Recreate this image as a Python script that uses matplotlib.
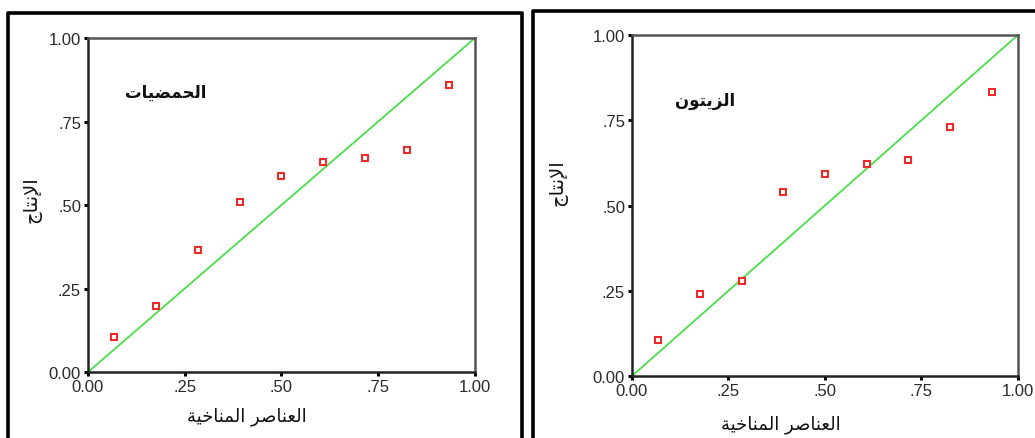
import matplotlib
matplotlib.use("Agg")
import matplotlib.pyplot as plt
from matplotlib.lines import Line2D

# P-P plot values
expected = [0.068, 0.176, 0.284, 0.392, 0.500, 0.608, 0.716, 0.824, 0.932]
citrus_obs = [0.105, 0.197, 0.366, 0.508, 0.587, 0.630, 0.641, 0.665, 0.858]
olive_obs = [0.105, 0.240, 0.280, 0.539, 0.591, 0.623, 0.634, 0.731, 0.832]

ticks = [0, 0.25, 0.5, 0.75, 1.0]
tick_labels = ["0.00", ".25", ".50", ".75", "1.00"]

x_title = "العناصر المناخية"
y_title = "الإنتاج"
citrus_title = "الحمضيات"
olive_title = "الزيتون"

# minimal arabic shaping, matplotlib has no bidi/shaping of its own
# letter: (isolated, final, initial, medial); None initial means no forward join
FORMS = {
    "ا": (0xFE8D, 0xFE8E, None, None),
    "إ": (0xFE87, 0xFE88, None, None),
    "أ": (0xFE83, 0xFE84, None, None),
    "ب": (0xFE8F, 0xFE90, 0xFE91, 0xFE92),
    "ة": (0xFE93, 0xFE94, None, None),
    "ت": (0xFE95, 0xFE96, 0xFE97, 0xFE98),
    "ج": (0xFE9D, 0xFE9E, 0xFE9F, 0xFEA0),
    "ح": (0xFEA1, 0xFEA2, 0xFEA3, 0xFEA4),
    "خ": (0xFEA5, 0xFEA6, 0xFEA7, 0xFEA8),
    "ر": (0xFEAD, 0xFEAE, None, None),
    "ز": (0xFEAF, 0xFEB0, None, None),
    "ص": (0xFEB9, 0xFEBA, 0xFEBB, 0xFEBC),
    "ض": (0xFEBD, 0xFEBE, 0xFEBF, 0xFEC0),
    "ع": (0xFEC9, 0xFECA, 0xFECB, 0xFECC),
    "ل": (0xFEDD, 0xFEDE, 0xFEDF, 0xFEE0),
    "م": (0xFEE1, 0xFEE2, 0xFEE3, 0xFEE4),
    "ن": (0xFEE5, 0xFEE6, 0xFEE7, 0xFEE8),
    "و": (0xFEED, 0xFEEE, None, None),
    "ي": (0xFEF1, 0xFEF2, 0xFEF3, 0xFEF4),
    # lam-alef ligatures
    "لا": (0xFEFB, 0xFEFC, None, None),
    "لإ": (0xFEF9, 0xFEFA, None, None),
    "لأ": (0xFEF7, 0xFEF8, None, None),
}


def shape(text):
    letters = []
    i = 0
    while i < len(text):
        pair = text[i:i + 2]
        if pair in FORMS and len(pair) == 2:
            letters.append(pair)
            i += 2
        else:
            letters.append(text[i])
            i += 1
    out = []
    for k, ch in enumerate(letters):
        if ch not in FORMS:
            out.append(ch)
            continue
        prev = letters[k - 1] if k > 0 else None
        nxt = letters[k + 1] if k + 1 < len(letters) else None
        join_prev = prev in FORMS and FORMS[prev][2] is not None
        join_next = FORMS[ch][2] is not None and nxt in FORMS
        iso, fin, ini, med = FORMS[ch]
        if join_prev and join_next:
            code = med
        elif join_prev:
            code = fin
        elif join_next:
            code = ini
        else:
            code = iso
        out.append(chr(code))
    return "".join(out)[::-1]


plt.rcParams["font.family"] = ["Liberation Sans", "DejaVu Sans"]

fig = plt.figure(figsize=(10.35, 4.39), dpi=100)

# rect, title pos, ylabel pos (axes coords), xlabel pos (figure coords)
panels = [
    (citrus_obs, citrus_title, [0.0850, 0.1503, 0.3739, 0.7608], (0.20, 0.84),
     (-0.119, 0.52), (0.2386, 0.050)),
    (olive_obs, olive_title, [0.6106, 0.1412, 0.3729, 0.7768], (0.19, 0.81),
     (-0.168, 0.57), (0.7546, 0.032)),
]

for obs, title, rect, tpos, ylpos, xlpos in panels:
    ax = fig.add_axes(rect)
    ax.plot([0, 1], [0, 1], color="#4ade4a", linewidth=1.3, zorder=2)
    ax.plot(expected, obs, linestyle="none", marker="s", markersize=4.5,
            markerfacecolor="white", markeredgecolor="#ee2a2a",
            markeredgewidth=1.5, zorder=3)
    ax.set_xlim(0, 1)
    ax.set_ylim(0, 1)
    ax.set_xticks(ticks)
    ax.set_xticklabels(tick_labels)
    ax.set_yticks(ticks)
    ax.set_yticklabels(tick_labels)
    ax.tick_params(direction="out", length=3, width=2.2, color="black",
                   labelsize=12, labelcolor="#2a2a2a", pad=2)
    for side in ["top", "right"]:
        ax.spines[side].set_color("#555555")
        ax.spines[side].set_linewidth(1.8)
    for side in ["left", "bottom"]:
        ax.spines[side].set_color("#222222")
        ax.spines[side].set_linewidth(1.8)
    ax.text(tpos[0], tpos[1], shape(title), transform=ax.transAxes,
            ha="center", va="center", fontsize=12, fontweight="bold",
            family="DejaVu Sans", color="#111111")
    ax.set_ylabel(shape(y_title), family="DejaVu Sans", fontsize=14,
                  color="#111111")
    ax.yaxis.set_label_coords(ylpos[0], ylpos[1])
    fig.text(xlpos[0], xlpos[1], shape(x_title), ha="center", va="center",
             family="DejaVu Sans", fontsize=13, color="#111111")

# black frames round each panel, open at the bottom
for xs, ys in [([8, 8, 522, 522], [439, 14, 14, 439]),
               ([533, 533, 1035], [439, 12, 12])]:
    fx = [v / 1035 for v in xs]
    fy = [1 - v / 439 for v in ys]
    fig.add_artist(Line2D(fx, fy, color="black", linewidth=2.6))

fig.savefig("out.png", dpi=100)
